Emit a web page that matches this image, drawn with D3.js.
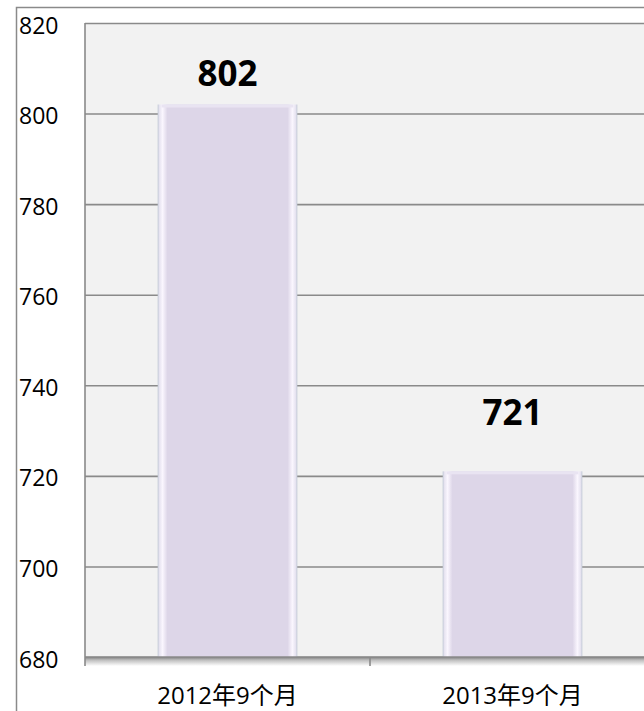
<!DOCTYPE html>
<html>
<head>
<meta charset="utf-8">
<script src="https://cdn.jsdelivr.net/npm/d3@7"></script>
<style>
  body { margin: 0; background: #fff; }
  svg { display: block; }
  svg text { font-family: "Open Sans", "Noto Sans CJK SC", sans-serif; }
</style>
</head>
<body>
<svg id="chart"></svg>
<script>
// chart data
const categories = ['2012年9个月', '2013年9个月'];
const values = [802, 721];
const yTicks = [680, 700, 720, 740, 760, 780, 800, 820];

const width = 644, height = 711;
const plot = {left: 85, top: 23, right: 655, bottom: 657};
const font = '"Open Sans", "Noto Sans CJK SC", sans-serif';

const svg = d3.select('#chart')
    .attr('width', width)
    .attr('height', height);

const defs = svg.append('defs');

// bar bevel: lighter edges, lavender body
const barGrad = defs.append('linearGradient')
    .attr('id', 'barGrad')
    .attr('x1', '0').attr('x2', '1').attr('y1', '0').attr('y2', '0');
[[0, '#bfc6d4'], [0.012, '#e6e3f0'], [0.035, '#faf6fe'], [0.07, '#ddd6e8'],
 [0.93, '#ddd6e8'], [0.965, '#faf6fe'], [0.988, '#e6e3f0'], [1, '#bfc6d4']]
  .forEach(([o, c]) => barGrad.append('stop').attr('offset', o).attr('stop-color', c));

const shadowGrad = defs.append('linearGradient')
    .attr('id', 'shadowGrad')
    .attr('x1', '0').attr('x2', '0').attr('y1', '0').attr('y2', '1');
[[0, '#8c8c8c'], [0.4, '#c4c4c4'], [1, '#ffffff']]
  .forEach(([o, c]) => shadowGrad.append('stop').attr('offset', o).attr('stop-color', c));

// outer frame
svg.append('path')
    .attr('d', `M16.5,${height}V7.5H${width}`)
    .attr('fill', 'none')
    .attr('stroke', '#8a8a8a')
    .attr('stroke-width', 1.5);

const x = d3.scaleBand()
    .domain(categories)
    .range([plot.left, plot.right])
    .paddingInner(0.51)
    .paddingOuter(0.255);

const y = d3.scaleLinear()
    .domain([d3.min(yTicks), d3.max(yTicks)])
    .range([plot.bottom, plot.top]);

// plot background
svg.append('rect')
    .attr('x', plot.left)
    .attr('y', plot.top)
    .attr('width', plot.right - plot.left)
    .attr('height', plot.bottom - plot.top)
    .attr('fill', '#f2f2f2');

// shadow under the category axis
svg.append('rect')
    .attr('x', plot.left)
    .attr('y', plot.bottom)
    .attr('width', plot.right - plot.left)
    .attr('height', 9)
    .attr('fill', 'url(#shadowGrad)');

// y axis with gridlines
const yAxis = d3.axisLeft(y)
    .tickValues(yTicks)
    .tickSize(-(plot.right - plot.left))
    .tickFormat(d => d);

const yAxisG = svg.append('g')
    .attr('transform', `translate(${plot.left},0)`)
    .call(yAxis)
    .attr('font-family', font);

yAxisG.select('.domain').remove();
yAxisG.selectAll('.tick line')
    .attr('stroke', '#8a8a8a')
    .attr('stroke-width', 1.6);
yAxisG.selectAll('.tick text')
    .attr('x', 19 - plot.left)
    .attr('dy', 0)
    .attr('y', 10)
    .attr('text-anchor', 'start')
    .attr('fill', '#000')
    .style('font-size', '23px');

// left edge of plot, running down as the first tick
svg.append('line')
    .attr('x1', plot.left).attr('x2', plot.left)
    .attr('y1', plot.top).attr('y2', plot.bottom + 9)
    .attr('stroke', '#8a8a8a')
    .attr('stroke-width', 1.6);

// bars
svg.selectAll('.bar')
    .data(values)
  .join('rect')
    .attr('class', 'bar')
    .attr('x', (d, i) => x(categories[i]))
    .attr('y', d => y(d))
    .attr('width', x.bandwidth())
    .attr('height', d => y(y.domain()[0]) - y(d))
    .attr('fill', 'url(#barGrad)');

// light top bevel on the bars
svg.selectAll('.bar-top')
    .data(values)
  .join('rect')
    .attr('class', 'bar-top')
    .attr('x', (d, i) => x(categories[i]) + 4)
    .attr('y', d => y(d))
    .attr('width', x.bandwidth() - 8)
    .attr('height', 3)
    .attr('fill', '#e9e4f2');

// category axis
svg.append('line')
    .attr('x1', plot.left).attr('x2', plot.right)
    .attr('y1', plot.bottom).attr('y2', plot.bottom)
    .attr('stroke', '#8a8a8a')
    .attr('stroke-width', 1.6);

const xAxisG = svg.append('g')
    .attr('transform', `translate(0,${plot.bottom})`)
    .call(d3.axisBottom(x).tickSize(0).tickPadding(0))
    .attr('font-family', font);
xAxisG.select('.domain').remove();
xAxisG.selectAll('.tick text')
    .attr('y', 47)
    .attr('dy', 0)
    .attr('fill', '#000')
    .style('font-size', '24px');

// tick between categories
svg.selectAll('.cat-tick')
    .data(categories.slice(1))
  .join('line')
    .attr('class', 'cat-tick')
    .attr('x1', d => x(d) - x.step() * x.paddingInner() / 2)
    .attr('x2', d => x(d) - x.step() * x.paddingInner() / 2)
    .attr('y1', plot.bottom)
    .attr('y2', plot.bottom + 9)
    .attr('stroke', '#8a8a8a')
    .attr('stroke-width', 1.6);

// value labels (placed by hand in the original, so offsets differ)
const labelGap = [19, 46];
svg.selectAll('.value-label')
    .data(values)
  .join('text')
    .attr('class', 'value-label')
    .attr('x', (d, i) => x(categories[i]) + x.bandwidth() / 2)
    .attr('y', (d, i) => y(d) - labelGap[i])
    .attr('text-anchor', 'middle')
    .attr('fill', '#000')
    .style('font-size', '35px')
    .style('font-weight', 'bold')
    .text(d => d);
</script>
</body>
</html>
